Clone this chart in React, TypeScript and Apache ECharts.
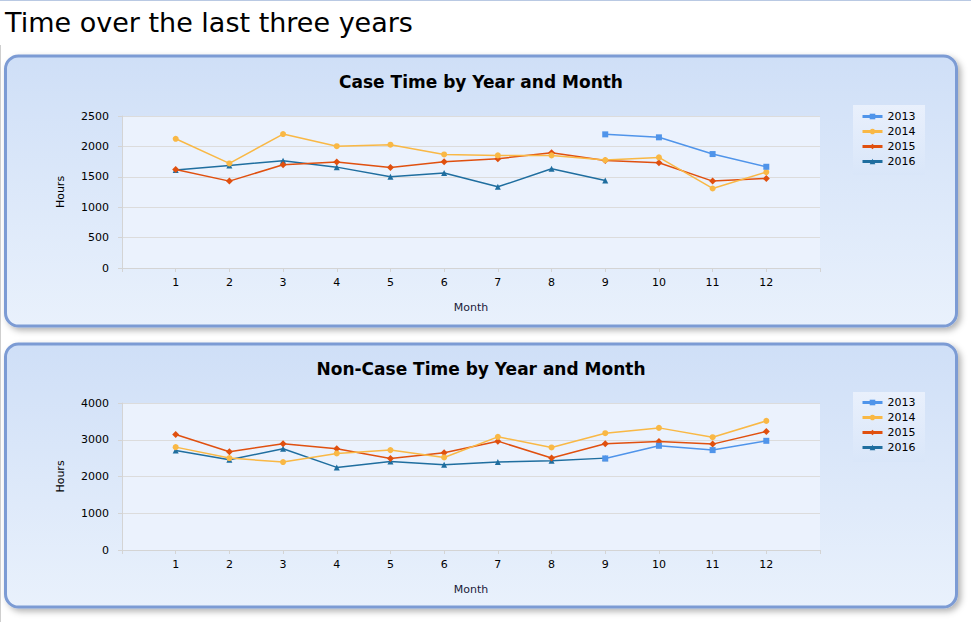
import React, { useEffect, useRef } from "react";
import * as echarts from "echarts";

const months = [1, 2, 3, 4, 5, 6, 7, 8, 9, 10, 11, 12];
const years = ["2013", "2014", "2015", "2016"];
const colors = ["#4f94ea", "#f9b845", "#e0500f", "#1f6e9f"];
const symbols = ["rect", "circle", "diamond", "triangle"];

// Case time (hours)
const case2013 = [null, null, null, null, null, null, null, null, 2198, 2149, 1874, 1665];
const case2014 = [2125, 1720, 2203, 2004, 2028, 1868, 1852, 1852, 1775, 1819, 1308, 1577];
const case2015 = [1621, 1429, 1698, 1742, 1654, 1747, 1797, 1896, 1769, 1731, 1429, 1473];
const case2016 = [1610, 1687, 1764, 1659, 1500, 1561, 1335, 1632, 1440, null, null, null];

// Non-case time (hours)
const non2013 = [null, null, null, null, null, null, null, null, 2492, 2835, 2718, 2971];
const non2014 = [2799, 2501, 2393, 2628, 2718, 2519, 3079, 2790, 3179, 3323, 3070, 3513];
const non2015 = [3142, 2673, 2890, 2754, 2492, 2646, 2962, 2501, 2890, 2953, 2881, 3224];
const non2016 = [2709, 2456, 2754, 2248, 2411, 2321, 2393, 2429, 2500, null, null, null];

const yTop = { max: 2500, interval: 500 };
const yBottom = { max: 4000, interval: 1000 };

const FONT = "DejaVu Sans";

function pts(arr: (number | null)[]) {
  const out: [number, number][] = [];
  arr.forEach((v, i) => {
    if (v !== null) out.push([months[i], v]);
  });
  return out;
}

export default function App() {
  const ref = useRef<HTMLDivElement>(null);
  useEffect(() => {
    if (!ref.current) return;
    const chart = echarts.init(ref.current, null, { renderer: "svg" });
    const caseSets = [case2013, case2014, case2015, case2016];
    const nonSets = [non2013, non2014, non2015, non2016];

    const mkX = (gi: number) => ({
      type: "value",
      gridIndex: gi,
      min: 0,
      max: 13,
      interval: 1,
      name: "Month",
      nameLocation: "middle",
      nameGap: 34,
      nameTextStyle: { fontFamily: FONT, fontSize: 11, color: "#1a1a3a" },
      axisLine: { show: true, lineStyle: { color: "#d4d4d4" } },
      axisTick: { show: true, length: 4, lineStyle: { color: "#d4d4d4" } },
      splitLine: { show: false },
      axisLabel: {
        fontFamily: FONT,
        fontSize: 11,
        color: "#000",
        margin: 9,
        formatter: (v: number) => (v >= 1 && v <= 12 ? String(v) : ""),
      },
    });
    const mkY = (gi: number, cfg: { max: number; interval: number }) => ({
      type: "value",
      gridIndex: gi,
      min: 0,
      max: cfg.max,
      interval: cfg.interval,
      name: "Hours",
      nameLocation: "middle",
      nameRotate: 90,
      nameGap: 56,
      nameTextStyle: { fontFamily: FONT, fontSize: 11, color: "#000" },
      axisLine: { show: true, lineStyle: { color: "#d4d4d4" } },
      axisTick: { show: true, length: 4, lineStyle: { color: "#d4d4d4" } },
      splitLine: { show: true, lineStyle: { color: "#dcdcdc" } },
      axisLabel: {
        fontFamily: FONT,
        fontSize: 11,
        color: "#000",
        margin: 13,
        formatter: (v: number) => String(v),
      },
    });

    const series: any[] = [];
    [caseSets, nonSets].forEach((sets, gi) => {
      sets.forEach((arr, k) => {
        series.push({
          type: "line",
          name: years[k],
          xAxisIndex: gi,
          yAxisIndex: gi,
          data: pts(arr),
          symbol: symbols[k],
          symbolSize: k === 2 ? 7 : 6,
          showAllSymbol: true,
          lineStyle: { width: 1.5, color: colors[k] },
          itemStyle: { color: colors[k] },
          z: 5 - k,
        });
      });
    });

    const panel = (y: number, h: number) => ({
      type: "rect",
      shape: { x: 5.5, y, width: 951, height: h, r: 13 },
      style: {
        fill: {
          type: "linear",
          x: 0,
          y: 0,
          x2: 0,
          y2: 1,
          colorStops: [
            { offset: 0, color: "#cfdff7" },
            { offset: 1, color: "#e9f1fc" },
          ],
        },
        stroke: "#7b9bd4",
        lineWidth: 3,
        shadowBlur: 6,
        shadowOffsetX: 3,
        shadowOffsetY: 3,
        shadowColor: "rgba(0,0,0,0.3)",
      },
      z: -10,
    });
    const legendBox = (y: number) => ({
      type: "rect",
      shape: { x: 853, y, width: 72, height: 70 },
      style: {
        fill: {
          type: "linear",
          x: 0,
          y: 0,
          x2: 0,
          y2: 1,
          colorStops: [
            { offset: 0, color: "#e9f0fc" },
            { offset: 1, color: "#d9e6f9" },
          ],
        },
      },
      z: -5,
    });
    const mkLegend = (top: number) => ({
      data: years,
      orient: "vertical",
      left: 853,
      top,
      padding: [5, 8, 9, 8],
      itemWidth: 20,
      itemHeight: 7,
      itemGap: 2,
      lineStyle: { width: 3 },
      textStyle: { fontFamily: FONT, fontSize: 11, color: "#000", lineHeight: 13 },
      selectedMode: false,
    });

    chart.setOption({
      animation: false,
      backgroundColor: "#ffffff",
      grid: [
        { left: 122, top: 116, width: 698, height: 152, show: true, backgroundColor: "#ebf2fd", borderWidth: 0 },
        { left: 122, top: 403, width: 698, height: 147, show: true, backgroundColor: "#ebf2fd", borderWidth: 0 },
      ],
      xAxis: [mkX(0), mkX(1)],
      yAxis: [mkY(0, yTop), mkY(1, yBottom)],
      legend: [mkLegend(105), mkLegend(391)],
      series,
      graphic: [
        { type: "line", shape: { x1: 0, y1: 0.5, x2: 971, y2: 0.5 }, style: { stroke: "#b9c9e3", lineWidth: 1 }, z: -20 },
        { type: "line", shape: { x1: 0.5, y1: 45, x2: 0.5, y2: 622 }, style: { stroke: "#cfcfcf", lineWidth: 1 }, z: -20 },
        panel(56, 270),
        panel(344, 263),
        legendBox(105),
        legendBox(392),
        {
          type: "text",
          x: 5,
          y: 22,
          style: { text: "Time over the last three years", fontFamily: FONT, fontSize: 27, fill: "#000", textVerticalAlign: "middle" },
          z: 10,
        },
        {
          type: "text",
          x: 481,
          y: 82,
          style: { text: "Case Time by Year and Month", fontFamily: FONT, fontSize: 17, fontWeight: "bold", fill: "#000", textAlign: "center", textVerticalAlign: "middle" },
          z: 10,
        },
        {
          type: "text",
          x: 481,
          y: 369,
          style: { text: "Non-Case Time by Year and Month", fontFamily: FONT, fontSize: 17, fontWeight: "bold", fill: "#000", textAlign: "center", textVerticalAlign: "middle" },
          z: 10,
        },
      ],
    });
    return () => chart.dispose();
  }, []);
  return <div ref={ref} style={{ position: "absolute", left: 0, top: 0, width: 971, height: 622 }} />;
}
